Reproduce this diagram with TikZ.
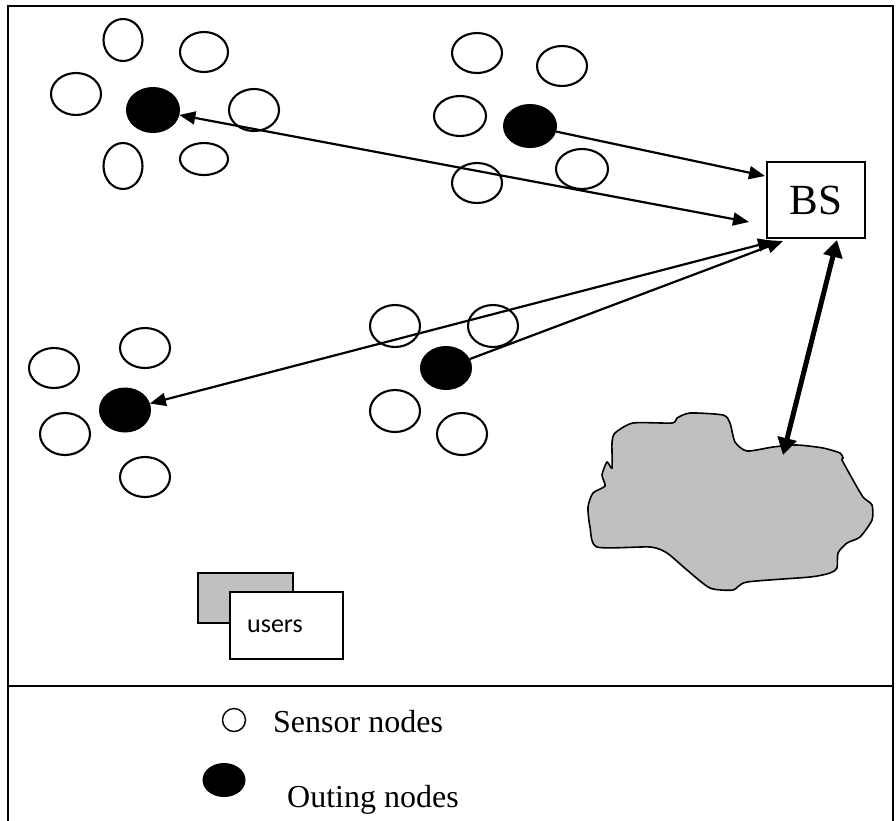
\documentclass[tikz,border=0pt]{standalone}
\usepackage{fontspec}
\setmainfont{Liberation Serif}
\newfontfamily\usersfont{Carlito}
\usetikzlibrary{arrows.meta,shapes.geometric}
\definecolor{blobgray}{RGB}{192,192,192}
\newcommand\sensornode[5]{\node[sensor,minimum width=#4pt,minimum height=#5pt] (#1) at (#2,#3) {};}
\newcommand\outingnode[5]{\node[outing,minimum width=#4pt,minimum height=#5pt] (#1) at (#2,#3) {};}
\begin{document}
\begin{tikzpicture}[x=1pt,y=-1pt,
  sensor/.style={draw,ellipse,line width=2.1pt,inner sep=0pt},
  outing/.style={draw,fill=black,ellipse,line width=1pt,inner sep=0pt},
  tipA/.tip={Triangle[length=16pt,width=13pt]},
  tipB/.tip={Triangle[length=17pt,width=19pt]},
  link/.style={line width=2.2pt,-tipA},
  dlink/.style={line width=2.2pt,tipA-tipA},
  thicklink/.style={line width=5pt,tipB-tipB},
  frameline/.style={line width=2pt}]
\useasboundingbox (0,0) rectangle (896,820);
% frame
\draw[frameline] (8,6) rectangle (893,840);
\draw[frameline] (8,686) -- (893,686);
% cluster 1
\sensornode{a1}{123}{40}{39}{42}
\sensornode{a2}{204}{52}{48}{40}
\sensornode{a3}{76}{94}{50}{42}
\sensornode{a4}{254}{110}{50}{42}
\sensornode{a5}{123}{166}{39}{46}
\sensornode{a6}{204}{159}{48}{32}
\outingnode{o1}{153}{110}{53}{45}
% cluster 2
\sensornode{b1}{477}{53}{50}{40}
\sensornode{b2}{562}{66}{50}{40}
\sensornode{b3}{460}{116}{52}{40}
\sensornode{b4}{477}{183}{50}{40}
\sensornode{b5}{582}{169}{52}{40}
\outingnode{o2}{530}{126}{53}{43}
% cluster 3
\sensornode{c1}{54}{368}{50}{40}
\sensornode{c2}{145}{348}{50}{40}
\sensornode{c3}{65}{434}{50}{42}
\sensornode{c4}{145}{477}{50}{40}
\outingnode{o3}{125}{410}{51}{44}
% cluster 4
\sensornode{d1}{395}{326}{50}{42}
\sensornode{d2}{493}{326}{50}{42}
\sensornode{d3}{395}{411}{50}{42}
\sensornode{d4}{462}{434}{50}{42}
\outingnode{o4}{446}{368}{51}{43}
% base station
\node[draw,line width=1.8pt,minimum width=98pt,minimum height=76pt,inner sep=0pt,font=\fontsize{43}{45}\selectfont] (bs) at (816,200) {BS};
\coordinate (bsIn1) at (765,176);
\coordinate (bsNear) at (749,222);
\coordinate (bsIn3) at (774,241);
\coordinate (bsIn4) at (783,241);
\coordinate (bsBot) at (837,240);
% cloud
\draw[line width=1.6pt,fill=blobgray] plot[smooth cycle,tension=0.4] coordinates {
 (612,468) (612,443) (615,433) (633,423) (672,423) (677,418) (690,413)
 (723,415) (730,423) (735,442) (747,451) (773,447) (797,445) (823,448)
 (840,453) (843,458) (842,460) (853,480) (863,497) (872,505) (872,520)
 (860,537) (847,543) (838,553) (837,568) (830,573) (810,577) (747,582)
 (733,590) (710,588) (687,570) (667,553) (650,547) (597,547) (590,527)
 (588,507) (593,493) (605,486) (602,475) (607,462)};
\coordinate (cloud) at (783,455);
% links
\draw[link] (o2) -- (bsIn1);
\draw[dlink] (o1) -- (bsNear);
\draw[dlink] (o3) -- (bsIn3);
\draw[link] (o4) -- (bsIn4);
\draw[thicklink] (bsBot) -- (cloud);
% users
\node[draw,line width=1.6pt,fill=blobgray,minimum width=95pt,minimum height=50pt,inner sep=0pt] (ug) at (245.5,598) {};
\node[draw,line width=1.6pt,fill=white,minimum width=113pt,minimum height=67pt,inner sep=0pt] (uw) at (286.5,625.5) {};
\node[anchor=base west,inner sep=0pt,font=\usersfont\fontsize{26}{28}\selectfont] (ut) at (247,632) {users};
% legend
\node[draw,circle,line width=1.4pt,minimum size=23pt,inner sep=0pt] (ls) at (234,720) {};
\node[anchor=base west,inner sep=0pt,font=\fontsize{32}{34}\selectfont] (lst) at (273,732) {Sensor nodes};
\node[fill=black,ellipse,minimum width=43pt,minimum height=34pt,inner sep=0pt] (lo) at (224,780) {};
\node[anchor=base west,inner sep=0pt,font=\fontsize{32}{34}\selectfont] (lot) at (287,807) {Outing nodes};
\end{tikzpicture}
\end{document}
